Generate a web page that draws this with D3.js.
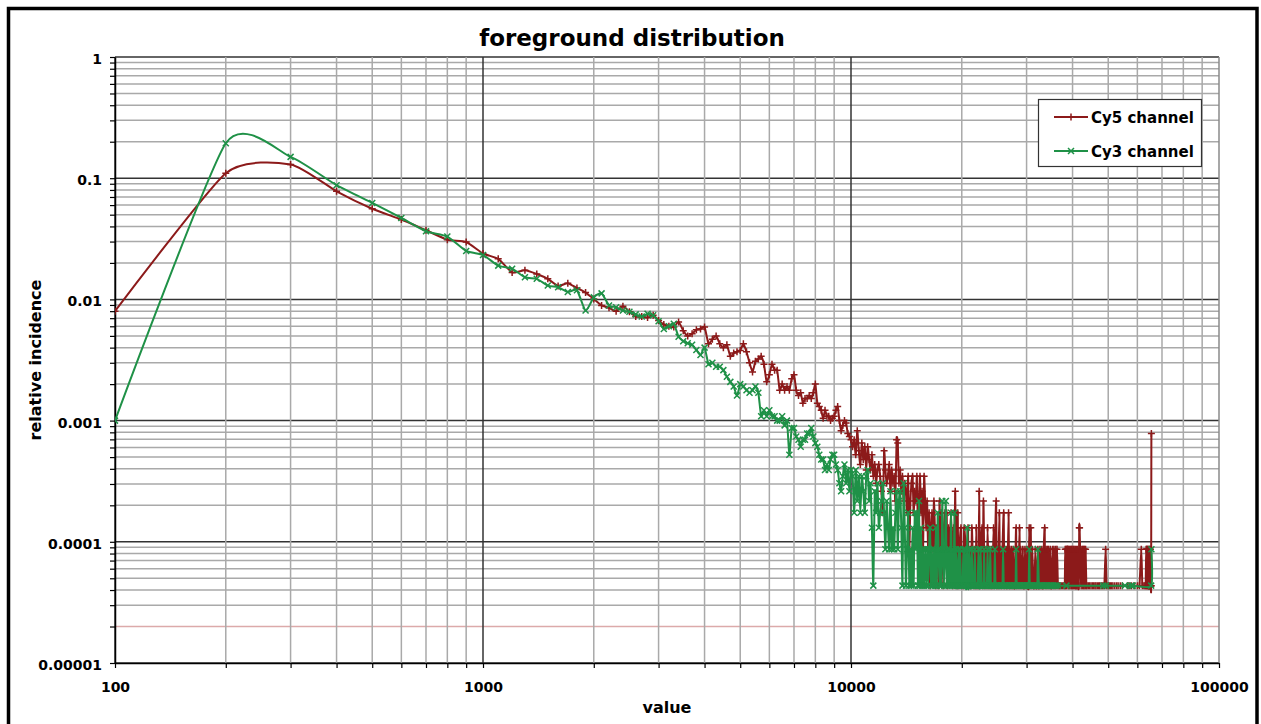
<!DOCTYPE html>
<html>
<head>
<meta charset="utf-8">
<script src="https://cdn.jsdelivr.net/npm/d3@7"></script>
<style>
  html, body { margin: 0; padding: 0; background: #fff; }
  svg { display: block; }
  text { font-family: "DejaVu Sans", Verdana, sans-serif; font-weight: bold; fill: #000; }
</style>
</head>
<body>
<svg id="chart" width="1261" height="724"></svg>
<script>
// ---- chart text ----
const chartTitle = "foreground distribution";
const xAxisTitle = "value";
const yAxisTitle = "relative incidence";
const seriesNames = ["Cy5 channel", "Cy3 channel"];

// ---- tick labels ----
const xTickValues = [100, 1000, 10000, 100000];
const xTickLabels = ["100", "1000", "10000", "100000"];
const yTickValues = [1, 0.1, 0.01, 0.001, 0.0001, 0.00001];
const yTickLabels = ["1", "0.1", "0.01", "0.001", "0.0001", "0.00001"];

// ---- histogram: spot counts per intensity bin (bins of 100, first bin at 100) ----
const binStart = 100;
const binWidth = 100;
const totalSpots = 23000;

// one row per 1000 of intensity
const cy5Counts = [
  184, 2530, 2990, 1794, 1288, 1049, 856, 715, 685, 550,
  497, 384, 400, 373, 340, 297, 313, 285, 262, 232,
  205, 196, 184, 202, 182, 166, 166, 163, 170, 154,
  143, 138, 136, 150, 127, 115, 120, 129, 131, 136,
  99, 108, 115, 99, 92, 97, 78, 83, 85, 87,
  99, 85, 69, 58, 71, 74, 78, 67, 48, 55,
  67, 60, 60, 41, 46, 41, 44, 41, 51, 55,
  41, 37, 39, 32, 35, 35, 37, 35, 39, 46,
  32, 30, 28, 24, 28, 25, 25, 23, 24, 25,
  28, 30, 23, 19, 21, 23, 22, 18, 17, 16,
  14, 16, 12, 19, 13, 10, 15, 11, 14, 9,
  14, 11, 9, 12, 8, 10, 7, 9, 10, 8,
  6, 4, 13, 9, 7, 8, 10, 6, 9, 7,
  8, 5, 16, 15, 7, 9, 6, 8, 5, 7,
  6, 4, 8, 2, 5, 7, 8, 4, 6, 5,
  8, 3, 5, 8, 4, 6, 2, 8, 5, 3,
  5, 2, 4, 1, 3, 4, 2, 5, 3, 1,
  3, 2, 1, 5, 2, 4, 3, 1, 3, 4,
  2, 4, 1, 3, 2, 0, 4, 2, 1, 3,
  2, 6, 1, 3, 4, 1, 2, 0, 3, 1,
  2, 1, 3, 0, 2, 1, 2, 3, 1, 0,
  2, 1, 3, 2, 0, 1, 2, 1, 3, 1,
  2, 1, 6, 1, 2, 0, 3, 1, 5, 2,
  1, 0, 2, 1, 3, 0, 1, 2, 0, 1,
  2, 1, 0, 3, 1, 2, 0, 5, 1, 2,
  1, 0, 4, 1, 2, 0, 1, 2, 0, 4,
  1, 2, 0, 1, 2, 1, 0, 4, 1, 2,
  1, 0, 2, 1, 0, 2, 1, 0, 1, 2,
  3, 1, 0, 2, 1, 0, 3, 1, 2, 0,
  1, 0, 2, 1, 0, 1, 2, 0, 1, 0,
  2, 1, 0, 1, 3, 1, 0, 3, 1, 0,
  2, 0, 1, 0, 1, 0, 2, 1, 0, 1,
  0, 2, 1, 0, 1, 2, 0, 1, 0, 2,
  1, 0, 1, 2, 0, 3, 1, 0, 2, 1,
  0, 2, 1, 2, 0, 1, 0, 2, 1, 0,
  1, 0, 2, 0, 1, 2, 0, 1, 0, 2,
  1, 0, 2, 0, 1, 0, 0, 1, 0, 1,
  0, 0, 1, 0, 0, 1, 0, 0, 1, 0,
  1, 2, 1, 2, 1, 2, 0, 2, 1, 2,
  1, 2, 1, 0, 2, 1, 2, 1, 2, 1,
  0, 2, 1, 2, 1, 0, 2, 1, 1, 2,
  1, 0, 2, 1, 0, 1, 3, 3, 0, 0,
  0, 1, 0, 2, 1, 2, 0, 1, 2, 1,
  2, 0, 1, 2, 0, 1, 0, 1, 0, 0,
  0, 1, 0, 0, 1, 0, 0, 0, 1, 0,
  0, 0, 1, 0, 0, 1, 0, 0, 0, 1,
  0, 0, 1, 0, 0, 0, 1, 0, 0, 0,
  1, 0, 0, 1, 0, 0, 0, 0, 1, 0,
  0, 0, 1, 0, 0, 0, 0, 1, 0, 0,
  0, 2, 0, 0, 1, 0, 0, 0, 0, 1,
  0, 0, 0, 1, 0, 0, 1, 0, 0, 0,
  1, 0, 0, 0, 1, 0, 0, 0, 0, 0,
  1, 0, 0, 0, 0, 0, 1, 0, 0, 0,
  0, 1, 0, 0, 0, 0, 0, 0, 1, 0,
  0, 0, 0, 0, 0, 1, 0, 0, 0, 0,
  0, 0, 0, 0, 0, 0, 0, 0, 0, 0,
  0, 0, 0, 1, 0, 0, 0, 0, 0, 1,
  0, 0, 0, 0, 0, 0, 0, 1, 0, 0,
  0, 0, 0, 0, 0, 0, 0, 0, 1, 0,
  0, 0, 0, 0, 0, 0, 0, 0, 0, 1,
  0, 0, 0, 0, 0, 0, 0, 1, 0, 0,
  0, 0, 0, 0, 2, 0, 0, 0, 1, 0,
  0, 0, 0, 0, 1, 0, 0, 0, 1, 0,
  0, 1, 0, 2, 1, 2, 1, 0, 2, 1,
  2, 1, 0, 1, 2, 1, 1, 2, 1, 1,
  2, 1, 1, 1, 18
];

const cy3Counts = [
  23, 4462, 3450, 2013, 1438, 1081, 840, 759, 577, 534,
  437, 412, 350, 340, 299, 290, 265, 274, 186, 239,
  258, 205, 198, 186, 182, 173, 166, 175, 170, 152,
  131, 138, 145, 113, 104, 100, 97, 88, 80, 92,
  67, 69, 64, 64, 60, 53, 48, 44, 37, 46,
  44, 41, 39, 41, 44, 39, 25, 28, 25, 28,
  25, 25, 23, 23, 25, 21, 23, 12, 20, 20,
  17, 16, 14, 16, 16, 18, 18, 20, 17, 15,
  14, 12, 11, 11, 9, 10, 9, 11, 12, 12,
  10, 9, 7, 6, 8, 10, 7, 9, 6, 9,
  8, 4, 9, 5, 8, 4, 8, 6, 4, 8,
  9, 5, 7, 3, 1, 6, 4, 7, 3, 4,
  5, 7, 4, 2, 5, 3, 2, 6, 2, 3,
  2, 4, 6, 2, 5, 6, 3, 1, 7, 3,
  1, 2, 4, 1, 2, 1, 3, 1, 4, 2,
  4, 1, 5, 1, 3, 1, 2, 1, 2, 1,
  2, 1, 2, 3, 1, 2, 1, 2, 1, 3,
  1, 4, 2, 1, 2, 1, 5, 2, 1, 2,
  5, 1, 2, 1, 2, 1, 4, 1, 2, 1,
  4, 1, 2, 1, 1, 2, 1, 2, 1, 1,
  1, 2, 1, 2, 1, 1, 3, 1, 1, 2,
  1, 1, 2, 1, 1, 1, 2, 1, 1, 1,
  1, 2, 1, 1, 2, 1, 1, 1, 1, 2,
  1, 1, 1, 1, 2, 1, 1, 1, 2, 1,
  1, 1, 1, 1, 1, 2, 1, 1, 1, 1,
  1, 1, 1, 0, 1, 1, 1, 1, 2, 1,
  1, 0, 1, 1, 1, 1, 0, 1, 1, 1,
  1, 0, 1, 1, 1, 0, 1, 1, 1, 1,
  2, 1, 0, 1, 1, 1, 0, 1, 1, 0,
  1, 1, 0, 1, 1, 0, 1, 1, 0, 1,
  1, 0, 1, 1, 2, 1, 0, 1, 1, 0,
  1, 0, 1, 1, 0, 1, 0, 1, 0, 1,
  1, 2, 0, 1, 0, 1, 0, 1, 0, 1,
  0, 1, 0, 1, 0, 0, 1, 0, 1, 0,
  1, 0, 0, 1, 0, 1, 0, 0, 1, 0,
  0, 1, 0, 0, 1, 0, 0, 1, 0, 0,
  1, 0, 0, 0, 1, 0, 0, 0, 0, 0,
  0, 0, 0, 0, 0, 0, 0, 0, 0, 0,
  0, 0, 0, 0, 1, 0, 0, 0, 0, 0,
  0, 0, 0, 0, 0, 0, 0, 0, 0, 0,
  0, 0, 0, 0, 0, 0, 0, 0, 0, 0,
  0, 0, 0, 0, 0, 0, 0, 0, 0, 0,
  0, 0, 0, 0, 0, 0, 0, 0, 0, 0,
  0, 0, 0, 0, 0, 0, 0, 0, 0, 0,
  0, 0, 0, 0, 0, 0, 0, 0, 0, 0,
  0, 0, 0, 0, 0, 0, 0, 0, 0, 0,
  0, 0, 0, 0, 0, 0, 0, 0, 0, 0,
  0, 0, 0, 0, 0, 0, 0, 0, 0, 0,
  0, 0, 0, 0, 1, 0, 0, 0, 0, 0,
  0, 0, 1, 0, 0, 0, 0, 0, 0, 0,
  0, 0, 0, 0, 0, 0, 0, 0, 0, 0,
  0, 0, 0, 0, 0, 0, 0, 0, 0, 0,
  0, 0, 0, 0, 0, 0, 0, 0, 0, 0,
  0, 0, 0, 0, 0, 0, 0, 0, 0, 0,
  0, 0, 0, 0, 0, 0, 0, 0, 0, 0,
  0, 0, 0, 0, 1, 0, 0, 0, 0, 0,
  0, 0, 0, 0, 0, 0, 0, 0, 0, 0,
  0, 0, 0, 0, 0, 0, 1, 0, 0, 0,
  0, 0, 1, 0, 0, 0, 0, 0, 0, 0,
  0, 0, 0, 0, 0, 0, 0, 0, 0, 0,
  0, 0, 0, 0, 0, 0, 0, 0, 0, 0,
  0, 0, 0, 0, 0, 0, 0, 0, 0, 0,
  0, 0, 0, 0, 0, 0, 0, 0, 0, 0,
  0, 0, 0, 0, 0, 0, 0, 0, 0, 0,
  0, 0, 0, 0, 0, 0, 0, 0, 0, 0,
  0, 0, 0, 1, 2
];

const seriesColors = ["#8c1a1a", "#1f9147"];

// ---- layout ----
const svg = d3.select("#chart");
const W = 1261, H = 724;
const plot = { left: 115, right: 1219, top: 57, bottom: 663 };

svg.append("rect").attr("width", W).attr("height", H).attr("fill", "#fff");

// heavy outer frame (runs past the bottom edge)
svg.append("rect")
  .attr("x", 8.5).attr("y", 8.5)
  .attr("width", 1248.5).attr("height", 740)
  .attr("fill", "none").attr("stroke", "#000").attr("stroke-width", 3.5);

const x = d3.scaleLog().domain([100, 100000]).range([plot.left, plot.right]);
const y = d3.scaleLog().domain([0.00001, 1]).range([plot.bottom, plot.top]);

const isDecade = v => Math.abs(Math.log10(v) - Math.round(Math.log10(v))) < 1e-9;
const sameValue = (a, b) => Math.abs(Math.log10(a) - Math.log10(b)) < 1e-9;

const xGridValues = x.ticks();
const yGridValues = y.ticks();

// ---- gridlines ----
const grid = svg.append("g");
grid.selectAll("line.hgrid")
  .data(yGridValues)
  .join("line")
  .attr("x1", plot.left).attr("x2", plot.right)
  .attr("y1", d => y(d)).attr("y2", d => y(d))
  .attr("stroke", d => isDecade(d) ? "#333" : (sameValue(d, 0.00002) ? "#dcaaaa" : "#a9a9a9"))
  .attr("stroke-width", 1.5);

grid.selectAll("line.vgrid")
  .data(xGridValues)
  .join("line")
  .attr("y1", plot.top).attr("y2", plot.bottom)
  .attr("x1", d => x(d)).attr("x2", d => x(d))
  .attr("stroke", d => isDecade(d) ? (d === 100000 ? "#8a8a8a" : "#333") : "#a9a9a9")
  .attr("stroke-width", 1.5);

// ---- axes ----
const yLabelFor = v => {
  const i = yTickValues.findIndex(t => sameValue(t, v));
  return i >= 0 ? yTickLabels[i] : "";
};
const xLabelFor = v => {
  const i = xTickValues.findIndex(t => sameValue(t, v));
  return i >= 0 ? xTickLabels[i] : "";
};

const yAxis = svg.append("g")
  .attr("transform", `translate(${plot.left},0)`)
  .call(d3.axisLeft(y).tickValues(yGridValues).tickSize(5).tickSizeOuter(0)
    .tickPadding(8).tickFormat(yLabelFor));

const xAxis = svg.append("g")
  .attr("transform", `translate(0,${plot.bottom})`)
  .call(d3.axisBottom(x).tickValues(xGridValues).tickSize(5).tickSizeOuter(0)
    .tickPadding(14).tickFormat(xLabelFor));

[yAxis, xAxis].forEach(ax => {
  ax.select(".domain").attr("stroke", "#000").attr("stroke-width", 1.5);
  ax.selectAll(".tick line").attr("stroke", "#000").attr("stroke-width", 1.2);
  ax.selectAll(".tick text")
    .style("font-family", '"DejaVu Sans", Verdana, sans-serif')
    .style("font-weight", "bold")
    .style("font-size", "14px")
    .attr("fill", "#000");
});
yAxis.selectAll(".tick text").attr("dy", "0.46em");

// ---- titles ----
svg.append("text")
  .attr("x", 632).attr("y", 46)
  .attr("text-anchor", "middle")
  .style("font-size", "23px")
  .text(chartTitle);

svg.append("text")
  .attr("x", (plot.left + plot.right) / 2).attr("y", 713)
  .attr("text-anchor", "middle")
  .style("font-size", "16px")
  .text(xAxisTitle);

svg.append("text")
  .attr("transform", `translate(41,${(plot.top + plot.bottom) / 2}) rotate(-90)`)
  .attr("text-anchor", "middle")
  .style("font-size", "16px")
  .text(yAxisTitle);

// ---- series ----
const toPoints = counts => counts
  .map((c, i) => ({ value: binStart + i * binWidth, incidence: c / totalSpots }))
  .filter(d => d.incidence > 0);

const series = [
  { name: seriesNames[0], color: seriesColors[0], marker: "plus", points: toPoints(cy5Counts) },
  { name: seriesNames[1], color: seriesColors[1], marker: "cross", points: toPoints(cy3Counts) }
];

const markerPath = {
  plus: "M-3.5,0H3.5M0,-3.5V3.5",
  cross: "M-3,-3L3,3M-3,3L3,-3"
};

// smoothed polyline through every bin
const line = d3.line()
  .x(d => x(d.value))
  .y(d => y(d.incidence))
  .curve(d3.curveCardinal.tension(0.4));

svg.append("clipPath").attr("id", "plot-clip")
  .append("rect")
  .attr("x", plot.left).attr("y", plot.top - 4)
  .attr("width", plot.right - plot.left + 4).attr("height", plot.bottom - plot.top + 4);

series.forEach(s => {
  const g = svg.append("g").attr("clip-path", "url(#plot-clip)");
  g.append("path")
    .datum(s.points)
    .attr("d", line)
    .attr("fill", "none")
    .attr("stroke", s.color)
    .attr("stroke-width", 2)
    .attr("stroke-linejoin", "round");
  g.append("g").selectAll("path")
    .data(s.points)
    .join("path")
    .attr("transform", d => `translate(${x(d.value)},${y(d.incidence)})`)
    .attr("d", markerPath[s.marker])
    .attr("stroke", s.color)
    .attr("stroke-width", 1.5)
    .attr("fill", "none");
});

// ---- legend ----
const legend = svg.append("g");
legend.append("rect")
  .attr("x", 1038.5).attr("y", 99.5)
  .attr("width", 163).attr("height", 67)
  .attr("fill", "#fff").attr("stroke", "#333").attr("stroke-width", 1.2);

series.forEach((s, i) => {
  const cy = 117 + i * 34;
  legend.append("line")
    .attr("x1", 1054).attr("x2", 1088).attr("y1", cy).attr("y2", cy)
    .attr("stroke", s.color).attr("stroke-width", 2);
  legend.append("path")
    .attr("transform", `translate(1071,${cy})`)
    .attr("d", markerPath[s.marker])
    .attr("stroke", s.color).attr("stroke-width", 1.5).attr("fill", "none");
  legend.append("text")
    .attr("x", 1091).attr("y", cy + 5.5)
    .style("font-size", "15px")
    .text(s.name);
});
</script>
</body>
</html>
